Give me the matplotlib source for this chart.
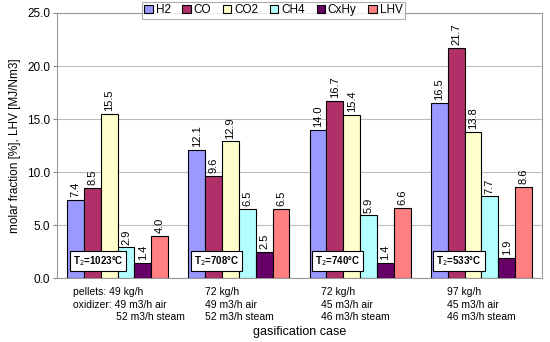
import numpy as np
import matplotlib
matplotlib.use("Agg")
import matplotlib.pyplot as plt
from matplotlib.transforms import blended_transform_factory

plt.rcParams["font.family"] = ["Liberation Sans", "DejaVu Sans"]

# --- data ---
series = ["H2", "CO", "CO2", "CH4", "CxHy", "LHV"]
colors = ["#9999FF", "#B0306A", "#FFFFCC", "#B3FFFF", "#660066", "#FF8080"]
h2 = [7.4, 12.1, 14.0, 16.5]
co = [8.5, 9.6, 16.7, 21.7]
co2 = [15.5, 12.9, 15.4, 13.8]
ch4 = [2.9, 6.5, 5.9, 7.7]
cxhy = [1.4, 2.5, 1.4, 1.9]
lhv = [4.0, 6.5, 6.6, 8.6]
temps = ["1023", "708", "740", "533"]
case_labels = [
    "pellets: 49 kg/h\noxidizer: 49 m3/h air\n               52 m3/h steam",
    "72 kg/h\n49 m3/h air\n52 m3/h steam",
    "72 kg/h\n45 m3/h air\n46 m3/h steam",
    "97 kg/h\n45 m3/h air\n46 m3/h steam",
]
label_shift = [0.09, 0.0, -0.04, 0.0]

values = [h2, co, co2, ch4, cxhy, lhv]
n_cases = len(h2)
x = np.arange(n_cases)
group_w = 0.833
bar_w = group_w / len(series)

fig = plt.figure(figsize=(5.5, 3.42), dpi=100)
ax = fig.add_axes([0.1036, 0.187, 0.882, 0.775])

handles = []
for i, (name, vals, c) in enumerate(zip(series, values, colors)):
    pos = x - group_w / 2 + bar_w * (i + 0.5)
    bars = ax.bar(pos, vals, width=bar_w, color=c, edgecolor="black",
                  linewidth=0.8, label=name, zorder=3)
    ax.bar_label(bars, labels=[f"{v:.1f}" for v in vals], rotation=90,
                 padding=2, fontsize=8, zorder=4)
    handles.append(bars)

# temperature boxes
for xi, t in zip(x, temps):
    ax.text(xi - group_w / 2 + 0.045, 1.6, f"T$_2$={t}°C", fontsize=7,
            fontweight="bold", ha="left", va="center", zorder=5,
            bbox=dict(boxstyle="square,pad=0.3", fc="white", ec="black", lw=0.8))

ax.set_xlim(-0.5, n_cases - 0.5)
ax.set_ylim(0, 25)
ax.set_yticks(np.arange(0, 25.1, 5))
ax.set_yticklabels([f"{v:.1f}" for v in np.arange(0, 25.1, 5)], fontsize=8.5)
ax.yaxis.grid(True, color="#BBBBBB", linewidth=0.8, zorder=0)
ax.set_xticks(x)
ax.set_xticklabels([])
ax.tick_params(axis="x", length=0)
ax.tick_params(axis="y", length=3, color="#888888", pad=2)

# multi-line case labels under each group
trans = blended_transform_factory(ax.transData, ax.transAxes)
for xi, lab, dx in zip(x, case_labels, label_shift):
    ax.text(xi + dx, -0.035, lab, transform=trans, ha="center", va="top",
            multialignment="left", fontsize=7.5, linespacing=1.3)

for s in ax.spines.values():
    s.set_color("#999999")
ax.set_ylabel("molar fraction [%], LHV [MJ/Nm3]", fontsize=8.5)
ax.text(0.5, -0.18, "gasification case", transform=ax.transAxes, ha="center",
        va="top", fontsize=9)

leg = fig.legend(handles=handles, loc="upper left", bbox_to_anchor=(142 / 550, 1 - 2 / 342),
                 ncol=6, fontsize=8.5, frameon=True, fancybox=False, edgecolor="#999999",
                 handlelength=0.7, handleheight=0.7, handletextpad=0.25, columnspacing=1.0,
                 borderpad=0.2, borderaxespad=0)
leg.get_frame().set_linewidth(0.8)

fig.savefig("out.png", dpi=100)
